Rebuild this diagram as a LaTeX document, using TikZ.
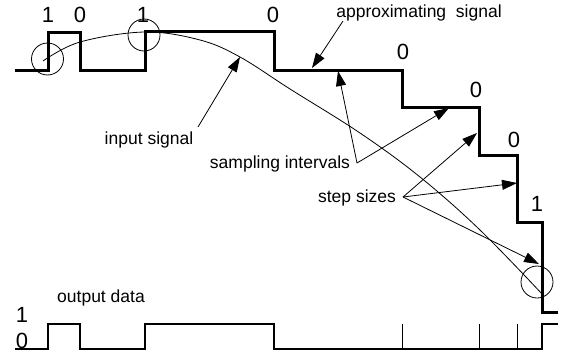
\documentclass[tikz,border=0pt]{standalone}
\usepackage{fontspec}
\setmainfont{Liberation Sans}
\usetikzlibrary{arrows.meta}
\begin{document}
\begin{tikzpicture}[x=1pt,y=-1pt,
  lbl/.style={font=\fontsize{17.5}{20}\selectfont, inner sep=0pt},
  dig/.style={font=\fontsize{22}{25}\selectfont, inner sep=0pt},
  stair/.style={line width=3pt, miter limit=10},
  outw/.style={line width=1.6pt},
  thin/.style={line width=0.8pt},
  ptr/.style={line width=0.8pt, -{Triangle[length=15pt,width=10pt]}},
  ring/.style={line width=0.8pt, circle, draw, minimum size=32pt, inner sep=0pt}]
\useasboundingbox (0,0) rectangle (564,356);
% approximating signal (staircase)
\draw[stair] (15,70) -| (48,32) -| (80,70) -| (145,31) -| (274,70) -| (402,107) -| (479,155) -| (517,222) -| (542,312) -- (558,312);
% input signal
\draw[thin] plot[smooth, tension=0.6] coordinates {(43,61) (80,42) (145,32) (200,40) (240,57) (290,89) (360,133) (420,177) (480,230) (543,295)};
% circles
\node[ring] (c1) at (47.5,59) {};
\node[ring] (c2) at (144,35) {};
\node[ring] (c3) at (537,282) {};
% digits
\node[dig] (d1) at (48,15) {1};
\node[dig] (d2) at (80,15) {0};
\node[dig] (d3) at (143,15) {1};
\node[dig] (d4) at (273,15) {0};
\node[dig] (d5) at (403,52) {0};
\node[dig] (d6) at (476,90) {0};
\node[dig] (d7) at (514,140) {0};
\node[dig] (d8) at (537,204) {1};
% labels
\node[lbl] (approx) at (419,13) {approximating\ \ signal};
\node[lbl] (input) at (149,140) {input signal};
\node[lbl] (samp) at (280,164) {sampling intervals};
\node[lbl] (steps) at (357,198) {step sizes};
\node[lbl] (outd) at (101,298) {output data};
\node[dig] (o1) at (22,315) {1};
\node[dig] (o0) at (22,341) {0};
% arrow end points
\coordinate (aS) at (343,21);
\coordinate (aE) at (312,68);
\coordinate (iS) at (198,127);
\coordinate (iE) at (240,57);
\coordinate (sS) at (357,163);
\coordinate (sE1) at (338,71);
\coordinate (sE2) at (449,108);
\coordinate (tS) at (403,197);
\coordinate (tE1) at (477,133);
\coordinate (tE2) at (517,183);
\coordinate (tE3) at (539,264);
\draw[ptr] (aS) -- (aE);
\draw[ptr] (iS) -- (iE);
\draw[ptr] (sS) -- (sE1);
\draw[ptr] (sS) -- (sE2);
\draw[ptr] (tS) -- (tE1);
\draw[ptr] (tS) -- (tE2);
\draw[ptr] (tS) -- (tE3);
% output data waveform
\draw[outw] (15,349) -| (48,324) -| (80,349) -| (145,324) -| (274,349) -| (542,324) -- (558,324);
\draw[thin] (402,324) -- (402,349);
\draw[thin] (479,324) -- (479,349);
\draw[thin] (517,324) -- (517,349);
\end{tikzpicture}
\end{document}
